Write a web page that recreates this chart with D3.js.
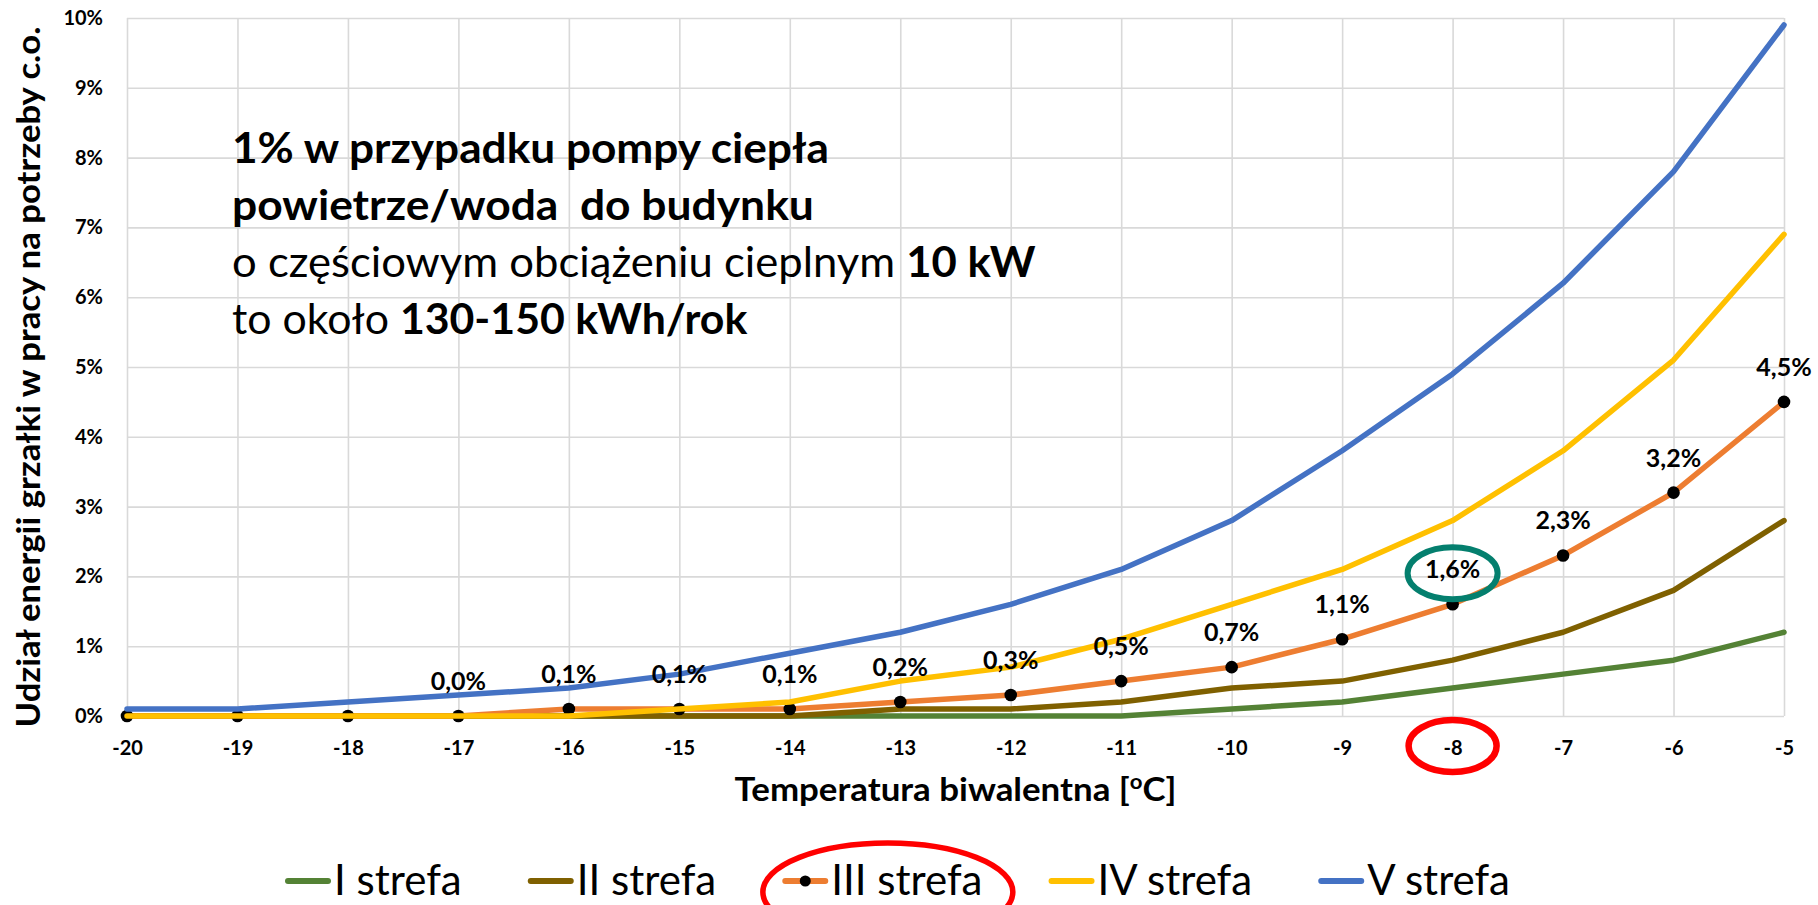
<!DOCTYPE html>
<html>
<head>
<meta charset="utf-8">
<script src="https://cdn.jsdelivr.net/npm/d3@7"></script>
<style>
  html, body { margin: 0; padding: 0; background: #fff; }
  svg { display: block; font-family: Lato, "Open Sans", sans-serif; }
  text { white-space: pre; }
</style>
</head>
<body>
<svg id="chart" width="1818" height="905"></svg>
<script>
// Bivalent temperature (°C) on the x axis
const temps = [-20, -19, -18, -17, -16, -15, -14, -13, -12, -11, -10, -9, -8, -7, -6, -5];

// Share of heater energy in space heating (%) for each climate zone
const zone1 = [0, 0, 0, 0, 0, 0, 0, 0, 0, 0, 0.1, 0.2, 0.4, 0.6, 0.8, 1.2];
const zone2 = [0, 0, 0, 0, 0, 0, 0, 0.1, 0.1, 0.2, 0.4, 0.5, 0.8, 1.2, 1.8, 2.8];
const zone3 = [0, 0, 0, 0, 0.1, 0.1, 0.1, 0.2, 0.3, 0.5, 0.7, 1.1, 1.6, 2.3, 3.2, 4.5];
const zone4 = [0, 0, 0, 0, 0, 0.1, 0.2, 0.5, 0.7, 1.1, 1.6, 2.1, 2.8, 3.8, 5.1, 6.9];
const zone5 = [0.1, 0.1, 0.2, 0.3, 0.4, 0.6, 0.9, 1.2, 1.6, 2.1, 2.8, 3.8, 4.9, 6.2, 7.8, 9.9];

const seriesNames = ["I strefa", "II strefa", "III strefa", "IV strefa", "V strefa"];
const seriesColors = ["#548235", "#7f6000", "#ed7d31", "#ffc000", "#4472c4"];

const yTicks = [0, 1, 2, 3, 4, 5, 6, 7, 8, 9, 10];
const yTickLabels = ["0%", "1%", "2%", "3%", "4%", "5%", "6%", "7%", "8%", "9%", "10%"];
const xTickLabels = ["-20", "-19", "-18", "-17", "-16", "-15", "-14", "-13", "-12", "-11", "-10", "-9", "-8", "-7", "-6", "-5"];

// Zone III values are labelled from this temperature upwards
const firstLabelledTemp = -17;
// Temperature singled out by the highlight rings
const highlightTemp = -8;

const yTitle = "Udział energii grzałki w pracy na potrzeby c.o.";
const xTitle = "Temperatura biwalentna [";
const note = [
  [["1% w przypadku pompy ciepła", true]],
  [["powietrze/woda  do budynku", true]],
  [["o częściowym obciążeniu cieplnym ", false], ["10 kW", true]],
  [["to około ", false], ["130-150 kWh/rok", true]]
];

const allSeries = [zone1, zone2, zone3, zone4, zone5];

const svg = d3.select("#chart");
const plot = { left: 127, right: 1784, top: 18, bottom: 716 };

const x = d3.scaleLinear().domain([d3.min(temps), d3.max(temps)]).range([plot.left, plot.right]);
const y = d3.scaleLinear().domain([0, 10]).range([plot.bottom, plot.top]);

const FONT = "Lato, 'Open Sans', sans-serif";
const GRID = "#d9d9d9";

// Horizontal stretch factor that makes a text node span the given width
function fitWidth(node, target) {
  const w = node.getBBox().width;
  return w > 0 ? target / w : 1;
}

// Horizontal gridlines + percentage labels
svg.append("g")
  .attr("transform", `translate(${plot.left},0)`)
  .call(d3.axisLeft(y)
    .tickValues(yTicks)
    .tickSize(-(plot.right - plot.left))
    .tickPadding(24)
    .tickFormat((d, i) => yTickLabels[i]))
  .call(g => g.select(".domain").remove())
  .call(g => g.attr("font-family", FONT).attr("font-size", 20).attr("font-weight", 700))
  .call(g => g.selectAll(".tick line").attr("stroke", GRID).attr("stroke-width", 1.6))
  .call(g => g.selectAll(".tick text").attr("fill", "#000"));

// Vertical gridlines + temperature labels
svg.append("g")
  .attr("transform", `translate(0,${plot.bottom})`)
  .call(d3.axisBottom(x)
    .tickValues(temps)
    .tickSize(-(plot.bottom - plot.top))
    .tickFormat((d, i) => xTickLabels[i]))
  .call(g => g.select(".domain").remove())
  .call(g => g.attr("font-family", FONT).attr("font-size", 20).attr("font-weight", 700))
  .call(g => g.selectAll(".tick line").attr("stroke", GRID).attr("stroke-width", 1.6))
  .call(g => g.selectAll(".tick text").attr("fill", "#000").attr("y", 39).attr("dy", null));

// Series lines
const line = d3.line()
  .x((d, i) => x(temps[i]))
  .y(d => y(d));

const seriesG = svg.append("g");
allSeries.forEach((vals, k) => {
  seriesG.append("path")
    .datum(vals)
    .attr("d", line)
    .attr("fill", "none")
    .attr("stroke", seriesColors[k])
    .attr("stroke-width", 5.5)
    .attr("stroke-linejoin", "round")
    .attr("stroke-linecap", "round");
  if (k === 2) {
    seriesG.append("g")
      .selectAll("circle")
      .data(vals)
      .join("circle")
      .attr("cx", (d, i) => x(temps[i]))
      .attr("cy", d => y(d))
      .attr("r", 6.3)
      .attr("fill", "#000");
  }
});

// Value labels on zone III
const fmt = d3.format(".1f");
const labelled = zone3.map((v, i) => ({ t: temps[i], v })).filter(d => d.t >= firstLabelledTemp);
svg.append("g")
  .attr("font-family", FONT)
  .attr("font-size", 25)
  .attr("font-weight", 700)
  .attr("text-anchor", "middle")
  .selectAll("text")
  .data(labelled)
  .join("text")
  .attr("x", d => x(d.t))
  .attr("y", d => y(d.v) - 26)
  .attr("fill", "#000")
  .text(d => fmt(d.v).replace(".", ",") + "%");

// Axis titles
const yt = svg.append("text")
  .attr("font-family", FONT)
  .attr("font-size", 33)
  .attr("font-weight", 700)
  .attr("text-anchor", "middle")
  .attr("fill", "#000")
  .text(yTitle);
const ysx = fitWidth(yt.node(), 701);
yt.attr("transform", `translate(40,${(plot.top + plot.bottom) / 2 + 10}) rotate(-90) scale(${ysx},1)`);

const xt = svg.append("text")
  .attr("font-family", FONT)
  .attr("font-size", 33)
  .attr("font-weight", 700)
  .attr("text-anchor", "middle")
  .attr("fill", "#000");
xt.append("tspan").text(xTitle);
xt.append("tspan").attr("font-size", 21).attr("dy", -12).text("o");
xt.append("tspan").attr("dy", 12).text("C]");
const xsx = fitWidth(xt.node(), 442);
xt.attr("transform", `translate(${(plot.left + plot.right) / 2},801) scale(${xsx},1)`);

// Annotation block
const noteWidths = [597, 582, 804, 516];
note.forEach((parts, li) => {
  const t = svg.append("text")
    .attr("font-family", FONT)
    .attr("font-size", 42)
    .attr("fill", "#000");
  parts.forEach(([s, bold]) => t.append("tspan").attr("font-weight", bold ? 700 : 400).text(s));
  const sx = fitWidth(t.node(), noteWidths[li]);
  t.attr("transform", `translate(232,${163 + li * 57}) scale(${sx},1)`);
});

// Highlight rings
const ringX = x(highlightTemp);
svg.append("ellipse")
  .attr("cx", ringX)
  .attr("cy", y(zone3[temps.indexOf(highlightTemp)]) - 31)
  .attr("rx", 45).attr("ry", 26)
  .attr("fill", "none")
  .attr("stroke", "#047f6e")
  .attr("stroke-width", 6);
svg.append("ellipse")
  .attr("cx", ringX)
  .attr("cy", plot.bottom + 30)
  .attr("rx", 44).attr("ry", 26)
  .attr("fill", "none")
  .attr("stroke", "#ff0000")
  .attr("stroke-width", 6.5);

// Legend
const legendY = 881;
const keyLen = 40, keyGap = 6;
const legendStart = 288, legendEnd = 1510;
const legend = svg.append("g")
  .attr("font-family", FONT)
  .attr("font-size", 42)
  .attr("fill", "#000");
const items = seriesNames.map((name, k) => {
  const g = legend.append("g");
  g.append("line")
    .attr("x1", 0).attr("x2", keyLen)
    .attr("y1", legendY).attr("y2", legendY)
    .attr("stroke", seriesColors[k])
    .attr("stroke-width", 6)
    .attr("stroke-linecap", "round");
  if (k === 2) {
    g.append("circle").attr("cx", keyLen / 2).attr("cy", legendY).attr("r", 5.5).attr("fill", "#000");
  }
  const t = g.append("text")
    .attr("x", keyLen + keyGap)
    .attr("y", legendY + 14)
    .text(name);
  return { g, w: keyLen + keyGap + t.node().getComputedTextLength() };
});
const totalW = d3.sum(items, d => d.w);
const gap = (legendEnd - legendStart - totalW) / (items.length - 1);
let cursor = legendStart;
items.forEach(it => {
  it.g.attr("transform", `translate(${cursor},0)`);
  it.x0 = cursor;
  cursor += it.w + gap;
});

// Ring around the zone III legend entry
const third = items[2];
svg.append("ellipse")
  .attr("cx", third.x0 + third.w / 2 + 4)
  .attr("cy", 892)
  .attr("rx", 125).attr("ry", 49)
  .attr("fill", "none")
  .attr("stroke", "#ff0000")
  .attr("stroke-width", 5.5);
</script>
</body>
</html>
